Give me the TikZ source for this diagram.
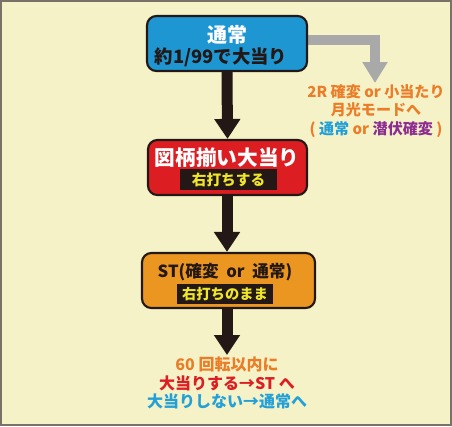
\documentclass[tikz,border=0pt]{standalone}
\usepackage{fontspec}
\setmainfont{Noto Sans CJK JP}
\usetikzlibrary{arrows.meta,backgrounds}
\definecolor{bgc}{HTML}{F5F2C8}
\definecolor{framec}{HTML}{7A7268}
\definecolor{bluebox}{HTML}{1E96D2}
\definecolor{redbox}{HTML}{DC1E23}
\definecolor{orangebox}{HTML}{EB9620}
\definecolor{orangetxt}{HTML}{EB7D28}
\definecolor{cyantxt}{HTML}{23A0D7}
\definecolor{purpletxt}{HTML}{8C2D91}
\definecolor{redtxt}{HTML}{DC1E23}
\definecolor{yellowtxt}{HTML}{F0E628}
\definecolor{arrowblk}{HTML}{231815}
\definecolor{arrowgray}{HTML}{A9A9A9}
\tikzset{
  box/.style={draw=arrowblk, line width=1.6pt, rounded corners=7pt, inner sep=0pt, minimum height=41.25pt},
  blackbar/.style={fill=arrowblk, inner sep=0pt, minimum height=15.5pt},
  label/.style={inner sep=0pt, font=\bfseries},
  mainarrow/.style={draw=arrowblk, line width=8.25pt, -{Triangle[width=18.75pt,length=15pt]}},
  grayarrow/.style={draw=arrowgray, line width=7.5pt, -{Triangle[width=18pt,length=15.75pt]}},
}
\begin{document}
\begin{tikzpicture}[x=0.75pt,y=-0.75pt]
\useasboundingbox (0,0) rectangle (452,426);
% boxes
\node[box, fill=bluebox, minimum width=120pt] (b1) at (227,43.5) {};
\node[box, fill=redbox, minimum width=119.25pt] (b2) at (227.5,167.5) {};
\node[box, fill=orangebox, minimum width=129.75pt] (b3) at (228.5,280.5) {};
\node[blackbar, minimum width=72.75pt] (bar2) at (228.5,179.5) {};
\node[blackbar, minimum width=72pt] (bar3) at (225,294) {};
% texts
\node[label, text=white, font=\bfseries\fontsize{15pt}{17pt}\selectfont] (t1a) at (227,34.5) {通常};
\node[label, text=arrowblk, font=\bfseries\fontsize{13.8pt}{15pt}\selectfont] (t1b) at (221,57) {約1/99で大当り};
\node[label, text=white, font=\bfseries\fontsize{15.5pt}{17pt}\selectfont] (t2a) at (227,158) {図柄揃い大当り};
\node[label, text=yellowtxt, font=\bfseries\fontsize{11pt}{13pt}\selectfont] (t2b) at (bar2) {右打ちする};
\node[label, text=arrowblk, font=\bfseries\fontsize{12.5pt}{14pt}\selectfont] (t3a) at (225,272) {ST(確変\ \ or\ \ 通常)};
\node[label, text=yellowtxt, font=\bfseries\fontsize{10.75pt}{13pt}\selectfont] (t3b) at (bar3) {右打ちのまま};
\node[label, text=orangetxt, align=center, anchor=north, font=\bfseries\fontsize{11.3pt}{13.9pt}\selectfont] (side) at (376,84)
  {2R 確変 or 小当たり\\月光モードへ\\( {\color{cyantxt}通常} or {\color{purpletxt}潜伏確変} )};
\node[label, align=center, anchor=north, font=\bfseries\fontsize{12pt}{13.6pt}\selectfont] (res) at (227,357)
  {{\color{orangetxt}60 回転以内に}\\{\color{redtxt}大当りする→ST へ}\\{\color{cyantxt}大当りしない→通常へ}};
\coordinate (gcorner) at (375,40);
\coordinate (gtip) at (375,83);
\coordinate (tip3) at (227,355);
\begin{scope}[on background layer]
\fill[bgc] (0,0) rectangle (452,426);
\draw[framec, line width=1.5pt] (1,1) rectangle (451,425);
\draw[grayarrow] (b1.east |- gcorner) -- (gcorner) -- (gtip);
\draw[mainarrow] (b1.south) -- (b2.north);
\draw[mainarrow] (b2.south -| tip3) -- (b3.north -| tip3);
\draw[mainarrow] (b3.south -| tip3) -- (tip3);
\end{scope}
\end{tikzpicture}
\end{document}
